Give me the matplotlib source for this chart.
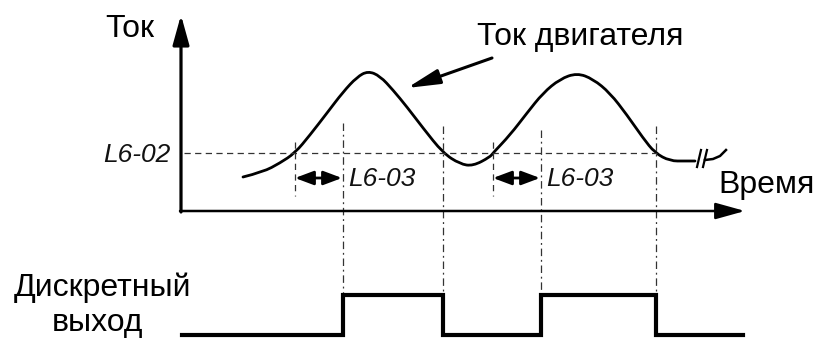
import matplotlib
matplotlib.use("Agg")
import matplotlib.pyplot as plt
from matplotlib.path import Path
from matplotlib.patches import PathPatch

plt.rcParams['font.family'] = ['Liberation Sans', 'DejaVu Sans']

# --- data (diagram units: time to the right, level downward like the picture) ---
time_motor = [243, 263, 280, 295, 310, 327, 343, 357, 368, 380, 393, 407, 423, 443,
              460, 473, 490, 493, 510, 527, 543, 560, 577, 593, 610, 627, 643, 655,
              670, 685, 695]
current_motor = [177, 172, 163, 153, 135, 113, 92, 77, 71, 76, 90, 107, 128, 153,
                 164, 166, 157, 153, 135, 113, 93, 79, 73, 79, 93, 115, 138, 153,
                 161, 161, 161]
threshold_L6_02 = 153
cross_up = [295, 493]          # current rises above L6-02
output_on = [343, 541]         # after L6-03 delay
output_off = [443, 656]        # current falls below L6-02
out_time = [182, 343, 443, 541, 656, 743]
out_level = [0, 1, 0, 1, 0, 0]

labels = {"current": "Ток", "motor": "Ток двигателя", "time": "Время",
          "L602": "L6-02", "L603": "L6-03", "out1": "Дискретный", "out2": "выход"}

# --- figure ---
fig = plt.figure(figsize=(8.17, 3.38), dpi=100)
ax = fig.add_axes([0, 0, 1, 1])
ax.set_xlim(0, 817)
ax.set_ylim(338, 0)
ax.axis('off')

axis_x0, axis_y0 = 181, 211
# axes arrows
ax.annotate('', xy=(axis_x0, 15), xytext=(axis_x0, axis_y0 + 1),
            arrowprops=dict(arrowstyle='-|>,head_length=0.9,head_width=0.25', lw=2.3,
                            color='black', mutation_scale=20, shrinkA=0, shrinkB=0))
ax.annotate('', xy=(745, axis_y0), xytext=(axis_x0 - 1, axis_y0),
            arrowprops=dict(arrowstyle='-|>,head_length=0.9,head_width=0.25', lw=1.8,
                            color='black', mutation_scale=20, shrinkA=0, shrinkB=0))

# threshold line
ax.plot([184, 657], [threshold_L6_02, threshold_L6_02], color='#333333', lw=0.9,
        dashes=(5, 3.5))

# vertical reference lines
for x in cross_up:
    ax.plot([x, x], [142, 196], color='#333333', lw=0.9, dashes=(5, 3.5))
tops = [123, 130]
for x, t in zip(output_on, tops):
    ax.plot([x, x], [t, 296], color='#333333', lw=0.9, dashes=(6, 3, 1.5, 3))
for x in output_off:
    ax.plot([x, x], [126, 296], color='#333333', lw=0.9, dashes=(6, 3, 1.5, 3))

# motor current curve, drawn as a smooth quadratic-Bezier path through the read points
pts = list(zip(time_motor, current_motor))
verts = [pts[0]]
codes = [Path.MOVETO]
for i in range(1, len(pts) - 1):
    mid = ((pts[i][0] + pts[i + 1][0]) / 2, (pts[i][1] + pts[i + 1][1]) / 2)
    verts += [pts[i], mid]
    codes += [Path.CURVE3, Path.CURVE3]
verts.append(pts[-1])
codes.append(Path.LINETO)
ax.add_patch(PathPatch(Path(verts, codes), facecolor='none', edgecolor='black',
                       lw=2.0, capstyle='round'))

# break symbol
ax.plot([697, 701], [167, 150], color='black', lw=1.6)
ax.plot([703, 707], [167, 150], color='black', lw=1.6)
ax.plot([705, 713, 720, 726], [160, 159, 156, 150], color='black', lw=1.8)

# L6-03 delay arrows
for a, b in zip(cross_up, output_on):
    ax.annotate('', xy=(b - 1, 178), xytext=(a, 178),
                arrowprops=dict(arrowstyle='<|-|>,head_length=0.8,head_width=0.3', lw=2.0,
                                color='black', mutation_scale=14, shrinkA=0, shrinkB=0))
    ax.text(b + 5, 179, labels["L603"], fontsize=19, style='italic', ha='left',
            va='center', color='#111111')

# annotation arrow for motor current
ax.annotate('', xy=(407, 88), xytext=(492, 58),
            arrowprops=dict(arrowstyle='-|>,head_length=1.1,head_width=0.25', lw=2.2,
                            color='black', mutation_scale=18, shrinkA=0, shrinkB=0))

# digital output
base_y, high_y = 335, 295
out_y = [base_y - lv * (base_y - high_y) for lv in out_level]
ax.plot(out_time, out_y, drawstyle='steps-post', color='black', lw=3.0,
        solid_joinstyle='miter')

# texts
ax.text(105, 37, labels["current"], fontsize=23, ha='left', va='baseline')
ax.text(477, 45, labels["motor"], fontsize=23, ha='left', va='baseline')
ax.text(718, 193, labels["time"], fontsize=23, ha='left', va='baseline')
ax.text(170, 155, labels["L602"], fontsize=19, style='italic', ha='right', va='center',
        color='#111111')
ax.text(103, 296, labels["out1"], fontsize=23, ha='center', va='baseline')
ax.text(97, 331, labels["out2"], fontsize=23, ha='center', va='baseline')

fig.savefig('out.png', dpi=100)
